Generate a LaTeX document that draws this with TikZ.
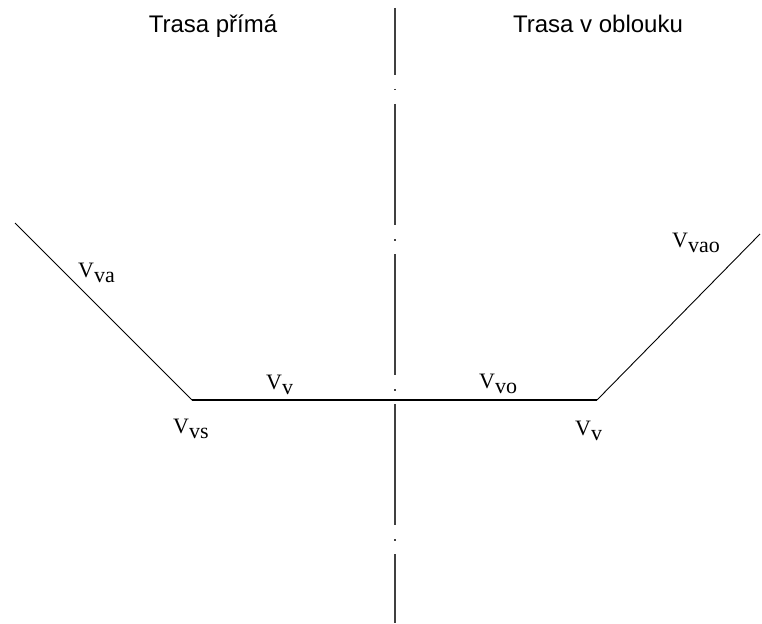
\documentclass[tikz,border=0pt]{standalone}
\usepackage{fontspec}
\setmainfont{Liberation Serif}
\setsansfont{Liberation Sans}
\usetikzlibrary{positioning}
\newcommand{\vsub}[1]{V\raisebox{-5pt}{#1}}
\tikzset{
  title/.style ={font=\sffamily\fontsize{24}{28}\selectfont, anchor=base,
                 inner sep=0pt},
  lbl/.style   ={font=\fontsize{22}{26}\selectfont, anchor=base west,
                 inner sep=0pt},
  axis/.style  ={draw=black!75, line width=1.2pt,
                 dash pattern=on 121pt off 14pt on 1.5pt off 13.5pt,
                 dash phase=54pt},
  flat/.style  ={draw=black, line width=2.2pt},
  slope/.style ={draw=black, line width=0.9pt}
}

\begin{document}
\begin{tikzpicture}[x=1pt,y=-1pt]
\useasboundingbox (0,0) rectangle (762,623);
\node[title] (tp) at (213,33) {Trasa přímá};
\node[title] (to) at (598,33) {Trasa v oblouku};

\coordinate (top) at (395,8);
\coordinate (bot) at (395,623);
\coordinate (la) at (15,223);
\coordinate (ls) at (192,400);
\coordinate (rs) at (597,400);
\coordinate (ra) at (760,234);

\draw[axis] (top) -- (bot);
\draw[slope] (la) -- (ls);
\draw[flat] (ls) -- (rs);
\draw[slope] (rs) -- (ra);

\node[lbl] (vva) at (78,277) {\vsub{va}};
\node[lbl] (vvs) at (173,433) {\vsub{vs}};
\node[lbl] (vv1) at (266,389) {\vsub{v}};
\node[lbl] (vvo) at (479,388) {\vsub{vo}};
\node[lbl] (vv2) at (575,435) {\vsub{v}};
\node[lbl] (vvao) at (672,247) {\vsub{vao}};
\end{tikzpicture}
\end{document}
